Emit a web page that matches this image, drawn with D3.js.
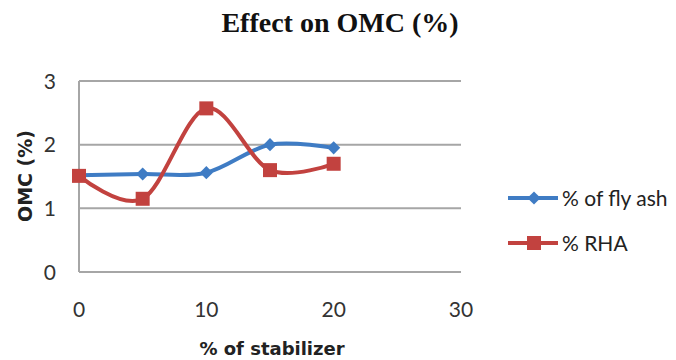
<!DOCTYPE html>
<html>
<head>
<meta charset="utf-8">
<script src="https://cdn.jsdelivr.net/npm/d3@7"></script>
<style>
  body { margin: 0; background: #fff; }
  svg { display: block; }
</style>
</head>
<body>
<svg id="chart" width="676" height="360"></svg>
<script>
// Stabilizer content (%) on the x axis
const stabilizer = [0, 5, 10, 15, 20];
// Optimum moisture content (%) for each stabilizer
const flyAsh = [1.52, 1.54, 1.56, 2.0, 1.95];
const rha = [1.51, 1.15, 2.57, 1.6, 1.7];
const seriesNames = ["% of fly ash", "% RHA"];
const xTicks = [0, 10, 20, 30];
const yTicks = [0, 1, 2, 3];

const blue = "#3f7cc4";
const red = "#c2423f";
const grid = "#a6a6a6";

const svg = d3.select("#chart");
const x = d3.scaleLinear().domain([0, 30]).range([79, 461]);
const y = d3.scaleLinear().domain([0, 3]).range([272, 81]);

// Title
svg.append("text")
  .attr("x", 340).attr("y", 32)
  .attr("text-anchor", "middle")
  .attr("font-family", "Liberation Serif, serif")
  .attr("font-weight", "bold")
  .attr("font-size", 28)
  .attr("fill", "#111")
  .text("Effect on OMC (%)");

// Horizontal gridlines
svg.append("g").selectAll("line").data(yTicks).join("line")
  .attr("x1", x(0)).attr("x2", x(30))
  .attr("y1", d => y(d)).attr("y2", d => y(d))
  .attr("stroke", grid).attr("stroke-width", 2);

// Vertical axis line
svg.append("line")
  .attr("x1", x(0)).attr("x2", x(0))
  .attr("y1", y(3)).attr("y2", y(0))
  .attr("stroke", grid).attr("stroke-width", 2);

const labelFont = "Lato, 'Noto Sans', sans-serif";
const titleFont = "'DejaVu Sans', sans-serif";

// Y tick labels
svg.append("g").selectAll("text").data(yTicks).join("text")
  .attr("x", 56).attr("y", d => y(d) + 7.5)
  .attr("text-anchor", "end")
  .attr("font-family", labelFont).attr("font-size", 21)
  .attr("fill", "#333")
  .text(d => d);

// X tick labels
svg.append("g").selectAll("text").data(xTicks).join("text")
  .attr("x", d => x(d)).attr("y", 317)
  .attr("text-anchor", "middle")
  .attr("font-family", labelFont).attr("font-size", 21)
  .attr("fill", "#333")
  .text(d => d);

// Axis titles
svg.append("text")
  .attr("x", 272).attr("y", 355)
  .attr("text-anchor", "middle")
  .attr("font-family", titleFont).attr("font-weight", "bold").attr("font-size", 18)
  .attr("fill", "#222")
  .text("% of stabilizer");

svg.append("text")
  .attr("transform", "translate(32,176) rotate(-90)")
  .attr("text-anchor", "middle")
  .attr("font-family", titleFont).attr("font-weight", "bold").attr("font-size", 19)
  .attr("fill", "#222")
  .text("OMC (%)");

// Smoothed series lines
const line = d3.line()
  .x(d => x(d[0])).y(d => y(d[1]))
  .curve(d3.curveCatmullRom.alpha(0));

const series = [
  { name: seriesNames[0], values: flyAsh, color: blue, marker: "diamond" },
  { name: seriesNames[1], values: rha, color: red, marker: "square" }
];

function drawMarker(g, type, color, cx, cy) {
  if (type === "diamond") {
    g.append("path")
      .attr("d", d3.symbol().type(d3.symbolDiamond2).size(110)())
      .attr("transform", `translate(${cx},${cy})`)
      .attr("fill", color);
  } else {
    g.append("rect")
      .attr("x", cx - 7).attr("y", cy - 7)
      .attr("width", 14).attr("height", 14)
      .attr("fill", color);
  }
}

series.forEach(s => {
  const pts = stabilizer.map((v, i) => [v, s.values[i]]);
  svg.append("path")
    .attr("d", line(pts))
    .attr("fill", "none")
    .attr("stroke", s.color)
    .attr("stroke-width", 4)
    .attr("stroke-linejoin", "round");
  const g = svg.append("g");
  pts.forEach(p => drawMarker(g, s.marker, s.color, x(p[0]), y(p[1])));
});

// Legend
series.forEach((s, i) => {
  const ly = 198 + i * 45;
  svg.append("line")
    .attr("x1", 508).attr("x2", 558)
    .attr("y1", ly).attr("y2", ly)
    .attr("stroke", s.color).attr("stroke-width", 4);
  drawMarker(svg, s.marker, s.color, 534, ly);
  svg.append("text")
    .attr("x", 562).attr("y", ly + 8)
    .attr("font-family", labelFont).attr("font-size", 21)
    .attr("fill", "#222")
    .text(s.name);
});
</script>
</body>
</html>
